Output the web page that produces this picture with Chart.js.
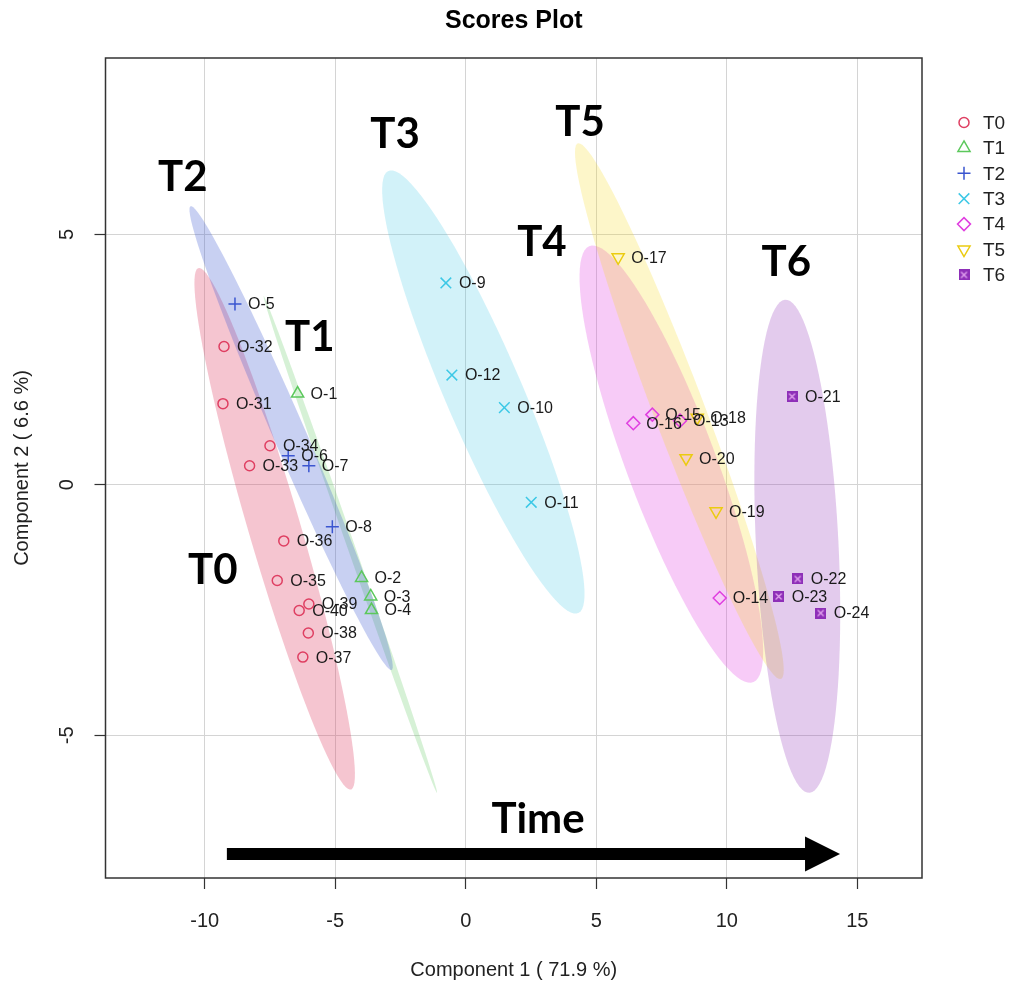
<!DOCTYPE html>
<html>
<head>
<meta charset="utf-8">
<title>Scores Plot</title>
<script src="https://cdn.jsdelivr.net/npm/chart.js@4.4.1/dist/chart.umd.min.js"></script>
<style>
    html, body { margin: 0; padding: 0; background: #fff; }
    #wrap { width: 1013px; height: 988px; }
</style>
</head>
<body>
<div id="wrap"><canvas id="scores" width="1013" height="988"></canvas></div>
<script>
// ---- data: PCA scores per group (Component 1, Component 2) ----
const groups = ['T0', 'T1', 'T2', 'T3', 'T4', 'T5', 'T6'];

const t0Names = ['O-31', 'O-32', 'O-33', 'O-34', 'O-35', 'O-36', 'O-37', 'O-38', 'O-39', 'O-40'];
const t0Pc1 = [-9.30, -9.26, -8.28, -7.50, -7.22, -6.97, -6.24, -6.03, -6.01, -6.38];
const t0Pc2 = [1.62, 2.76, 0.38, 0.78, -1.91, -1.12, -3.44, -2.96, -2.38, -2.51];

const t1Names = ['O-1', 'O-2', 'O-3', 'O-4'];
const t1Pc1 = [-6.44, -3.99, -3.64, -3.61];
const t1Pc2 = [1.82, -1.86, -2.23, -2.50];

const t2Names = ['O-5', 'O-6', 'O-7', 'O-8'];
const t2Pc1 = [-8.84, -6.80, -6.01, -5.11];
const t2Pc2 = [3.61, 0.58, 0.38, -0.84];

const t3Names = ['O-9', 'O-10', 'O-11', 'O-12'];
const t3Pc1 = [-0.76, 1.48, 2.51, -0.53];
const t3Pc2 = [4.03, 1.54, -0.35, 2.19];

const t4Names = ['O-13', 'O-14', 'O-15', 'O-16'];
const t4Pc1 = [8.21, 9.73, 7.15, 6.42];
const t4Pc2 = [1.28, -2.26, 1.40, 1.23];

const t5Names = ['O-17', 'O-18', 'O-19', 'O-20'];
const t5Pc1 = [5.84, 8.87, 9.59, 8.44];
const t5Pc2 = [4.54, 1.34, -0.53, 0.53];

const t6Names = ['O-21', 'O-22', 'O-23', 'O-24'];
const t6Pc1 = [12.50, 12.72, 11.99, 13.60];
const t6Pc2 = [1.76, -1.88, -2.23, -2.56];

const xTicks = [-10, -5, 0, 5, 10, 15];
const yTicks = [-5, 0, 5];

const titleText = 'Scores Plot';
const xTitle = 'Component 1 ( 71.9 %)';
const yTitle = 'Component 2 ( 6.6 %)';

// ---- styles ----
const lineColor = ['#DF3F62', '#5CC85C', '#3A55D0', '#3CC8E6', '#E03FE0', '#EBCB10', '#8E2FB8'];
const fillColor = [
    'rgba(223,63,98,0.30)',
    'rgba(92,200,92,0.25)',
    'rgba(58,85,208,0.28)',
    'rgba(60,200,230,0.23)',
    'rgba(224,63,224,0.27)',
    'rgba(245,215,20,0.23)',
    'rgba(142,47,184,0.25)'
];
const FONT = '"Liberation Sans", Arial, sans-serif';
const BIG = '"Lato", "Open Sans", sans-serif';

// boxed cross marker (square with an x inside)
function boxedCross(color, size) {
    const c = document.createElement('canvas');
    c.width = size;
    c.height = size;
    const g = c.getContext('2d');
    g.fillStyle = color;
    g.fillRect(0, 0, size, size);
    g.strokeStyle = '#E4A6F0';
    g.lineWidth = 1.3;
    g.beginPath();
    g.moveTo(2.5, 2.5); g.lineTo(size - 2.5, size - 2.5);
    g.moveTo(size - 2.5, 2.5); g.lineTo(2.5, size - 2.5);
    g.stroke();
    return c;
}

const markers = [
    { pointStyle: 'circle', radius: 5, rotation: 0 },
    { pointStyle: 'triangle', radius: 7, rotation: 0 },
    { pointStyle: 'cross', radius: 6.5, rotation: 0 },
    { pointStyle: 'crossRot', radius: 7.5, rotation: 0 },
    { pointStyle: 'rectRot', radius: 6.5, rotation: 0 },
    { pointStyle: 'triangle', radius: 7, rotation: 180 },
    { pointStyle: boxedCross('#8E2FB8', 11), radius: 6, rotation: 0 }
];

// big group tags and the time arrow, placed in data units
const tags = [
    { text: 'T0', x: -9.69, y: -1.72 },
    { text: 'T1', x: -5.97, y: 2.95 },
    { text: 'T2', x: -10.84, y: 6.13 },
    { text: 'T3', x: -2.71, y: 6.99 },
    { text: 'T4', x: 2.92, y: 4.83 },
    { text: 'T5', x: 4.38, y: 7.23 },
    { text: 'T6', x: 12.28, y: 4.43 },
    { text: 'Time', x: 2.77, y: -6.69 }
];
const arrow = { x0: -9.15, x1: 14.34, y: -7.37 };

const names = [t0Names, t1Names, t2Names, t3Names, t4Names, t5Names, t6Names];
const pc1 = [t0Pc1, t1Pc1, t2Pc1, t3Pc1, t4Pc1, t5Pc1, t6Pc1];
const pc2 = [t0Pc2, t1Pc2, t2Pc2, t3Pc2, t4Pc2, t5Pc2, t6Pc2];

// 95% confidence ellipse, same construction as R's ellipse::ellipse
function confEllipse(xs, ys, steps) {
    const n = xs.length;
    const mx = xs.reduce((a, b) => a + b, 0) / n;
    const my = ys.reduce((a, b) => a + b, 0) / n;
    let sxx = 0, syy = 0, sxy = 0;
    for (let i = 0; i < n; i++) {
        const dx = xs[i] - mx, dy = ys[i] - my;
        sxx += dx * dx; syy += dy * dy; sxy += dx * dy;
    }
    sxx /= (n - 1); syy /= (n - 1); sxy /= (n - 1);
    const sx = Math.sqrt(sxx), sy = Math.sqrt(syy);
    const d = Math.acos(sxy / (sx * sy));
    const t = Math.sqrt(5.991465); // qchisq(0.95, 2)
    const pts = [];
    for (let k = 0; k < steps; k++) {
        const a = 2 * Math.PI * k / steps;
        pts.push({ x: mx + t * sx * Math.cos(a + d / 2), y: my + t * sy * Math.cos(a - d / 2) });
    }
    return pts;
}

const ellipses = groups.map((g, i) => confEllipse(pc1[i], pc2[i], 100));

const datasets = groups.map((g, i) => ({
    label: g,
    data: pc1[i].map((x, k) => ({ x: x, y: pc2[i][k], name: names[i][k] })),
    pointStyle: markers[i].pointStyle,
    pointRadius: markers[i].radius,
    pointRotation: markers[i].rotation,
    pointBorderWidth: 1.5,
    pointBorderColor: lineColor[i],
    pointBackgroundColor: 'rgba(0,0,0,0)',
    pointHoverRadius: markers[i].radius
}));

// ellipses under the points
const ellipsePlugin = {
    id: 'ellipses',
    beforeDatasetsDraw(chart) {
        const { ctx, scales: { x, y } } = chart;
        ctx.save();
        ellipses.forEach((pts, i) => {
            ctx.beginPath();
            pts.forEach((p, k) => {
                const px = x.getPixelForValue(p.x), py = y.getPixelForValue(p.y);
                if (k === 0) ctx.moveTo(px, py); else ctx.lineTo(px, py);
            });
            ctx.closePath();
            ctx.fillStyle = fillColor[i];
            ctx.fill();
        });
        ctx.restore();
    }
};

// sample names, tags, arrow, frame, titles, legend
const decorPlugin = {
    id: 'decor',
    afterDatasetsDraw(chart) {
        const { ctx, chartArea: area, scales: { x, y } } = chart;
        ctx.save();

        // sample names to the right of each point
        ctx.font = '16px ' + FONT;
        ctx.fillStyle = '#1a1a1a';
        ctx.textAlign = 'left';
        ctx.textBaseline = 'middle';
        chart.data.datasets.forEach((ds, i) => {
            chart.getDatasetMeta(i).data.forEach((el, k) => {
                ctx.fillText(ds.data[k].name, el.x + 13, el.y + 1);
            });
        });

        // group tags
        ctx.font = 'bold 42px ' + BIG;
        ctx.fillStyle = '#000';
        ctx.textAlign = 'center';
        ctx.textBaseline = 'middle';
        tags.forEach(t => {
            ctx.fillText(t.text, x.getPixelForValue(t.x), y.getPixelForValue(t.y));
        });

        // time arrow
        const ax0 = x.getPixelForValue(arrow.x0);
        const ax1 = x.getPixelForValue(arrow.x1);
        const ay = y.getPixelForValue(arrow.y);
        ctx.beginPath();
        ctx.moveTo(ax0, ay - 6);
        ctx.lineTo(ax1 - 35, ay - 6);
        ctx.lineTo(ax1 - 35, ay - 17.5);
        ctx.lineTo(ax1, ay);
        ctx.lineTo(ax1 - 35, ay + 17.5);
        ctx.lineTo(ax1 - 35, ay + 6);
        ctx.lineTo(ax0, ay + 6);
        ctx.closePath();
        ctx.fill();

        // frame
        ctx.strokeStyle = '#333';
        ctx.lineWidth = 1.5;
        ctx.strokeRect(area.left, area.top, area.right - area.left, area.bottom - area.top);

        // y tick labels, parallel to the axis
        ctx.font = '20px ' + FONT;
        ctx.fillStyle = '#222';
        yTicks.forEach(v => {
            ctx.save();
            ctx.translate(67, y.getPixelForValue(v));
            ctx.rotate(-Math.PI / 2);
            ctx.fillText(String(v), 0, 0);
            ctx.restore();
        });

        // titles
        const cx = (area.left + area.right) / 2;
        const cy = (area.top + area.bottom) / 2;
        ctx.fillText(xTitle, cx, 970);
        ctx.save();
        ctx.translate(22, cy);
        ctx.rotate(-Math.PI / 2);
        ctx.fillText(yTitle, 0, 0);
        ctx.restore();
        ctx.font = 'bold 25px ' + FONT;
        ctx.fillStyle = '#000';
        ctx.fillText(titleText, cx, 21);

        // legend
        ctx.font = '19px ' + FONT;
        ctx.textAlign = 'left';
        groups.forEach((g, i) => {
            const ly = 122.5 + i * 25.4;
            ctx.strokeStyle = lineColor[i];
            ctx.fillStyle = 'rgba(0,0,0,0)';
            ctx.lineWidth = 1.5;
            Chart.helpers.drawPoint(ctx, {
                pointStyle: markers[i].pointStyle,
                radius: markers[i].radius,
                rotation: markers[i].rotation,
                borderWidth: 1.5
            }, 964, ly);
            ctx.fillStyle = '#222';
            ctx.fillText(g, 983, ly + 1);
        });

        ctx.restore();
    }
};

const chart = new Chart(document.getElementById('scores'), {
    type: 'scatter',
    data: { datasets: datasets },
    options: {
        responsive: false,
        animation: false,
        devicePixelRatio: 1,
        layout: { padding: { left: 0, top: 58, right: 91, bottom: 0 } },
        plugins: {
            legend: { display: false },
            tooltip: { enabled: false },
            title: { display: false }
        },
        scales: {
            x: {
                type: 'linear',
                min: -13.8,
                max: 17.48,
                afterBuildTicks: s => { s.ticks = xTicks.map(v => ({ value: v })); },
                afterFit: s => { s.height = 110; },
                grid: { color: '#d4d4d4', lineWidth: 1, drawTicks: true, tickLength: 11, tickColor: '#333', tickWidth: 1.2 },
                border: { display: false },
                ticks: { color: '#222', font: { family: FONT, size: 20 }, padding: 20, maxRotation: 0 }
            },
            y: {
                type: 'linear',
                min: -7.85,
                max: 8.52,
                afterBuildTicks: s => { s.ticks = yTicks.map(v => ({ value: v })); },
                afterFit: s => { s.width = 105.5; },
                grid: { color: '#d4d4d4', lineWidth: 1, drawTicks: true, tickLength: 11, tickColor: '#333', tickWidth: 1.2 },
                border: { display: false },
                ticks: { display: false }
            }
        }
    },
    plugins: [ellipsePlugin, decorPlugin]
});
</script>
</body>
</html>
